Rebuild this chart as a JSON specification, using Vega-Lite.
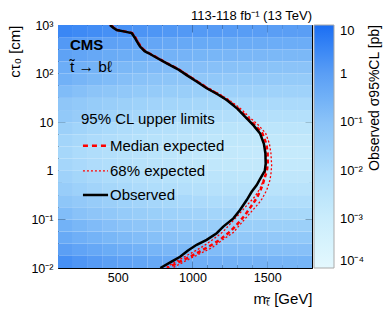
{
"$schema":"https://vega.github.io/schema/vega-lite/v6.json",
"width":254,"height":243,
"autosize":{"type":"none"},
"padding":{"left":58,"top":25,"right":78,"bottom":49},
"config":{"font":"Liberation Sans","view":{"stroke":null},"axis":{"grid":false,"domain":false,"tickColor":"black","domainColor":"black","labelColor":"black","titleColor":"black","zindex":1}},
"title":{"text":"113-118 fb⁻¹ (13 TeV)","anchor":"end","frame":"group","fontSize":13,"fontWeight":"normal","offset":-4,"color":"black"},
"datasets":{
"cells":[
{"m0":100,"m1":200,"c0":0.01,"c1":0.0178,"lg":0.30},{"m0":200,"m1":300,"c0":0.01,"c1":0.0178,"lg":0.17},{"m0":300,"m1":400,"c0":0.01,"c1":0.0178,"lg":0.06},{"m0":400,"m1":500,"c0":0.01,"c1":0.0178,"lg":-0.04},{"m0":500,"m1":600,"c0":0.01,"c1":0.0178,"lg":-0.13},{"m0":600,"m1":700,"c0":0.01,"c1":0.0178,"lg":-0.21},{"m0":700,"m1":800,"c0":0.01,"c1":0.0178,"lg":-0.29},{"m0":800,"m1":900,"c0":0.01,"c1":0.0178,"lg":-0.35},{"m0":900,"m1":1000,"c0":0.01,"c1":0.0178,"lg":-0.40},{"m0":1000,"m1":1100,"c0":0.01,"c1":0.0178,"lg":-0.45},{"m0":1100,"m1":1200,"c0":0.01,"c1":0.0178,"lg":-0.49},{"m0":1200,"m1":1300,"c0":0.01,"c1":0.0178,"lg":-0.53},{"m0":1300,"m1":1400,"c0":0.01,"c1":0.0178,"lg":-0.56},{"m0":1400,"m1":1500,"c0":0.01,"c1":0.0178,"lg":-0.57},{"m0":1500,"m1":1600,"c0":0.01,"c1":0.0178,"lg":-0.59},{"m0":1600,"m1":1700,"c0":0.01,"c1":0.0178,"lg":-0.60},{"m0":1700,"m1":1800,"c0":0.01,"c1":0.0178,"lg":-0.60},
{"m0":100,"m1":200,"c0":0.0178,"c1":0.0316,"lg":-0.02},{"m0":200,"m1":300,"c0":0.0178,"c1":0.0316,"lg":-0.15},{"m0":300,"m1":400,"c0":0.0178,"c1":0.0316,"lg":-0.26},{"m0":400,"m1":500,"c0":0.0178,"c1":0.0316,"lg":-0.36},{"m0":500,"m1":600,"c0":0.0178,"c1":0.0316,"lg":-0.45},{"m0":600,"m1":700,"c0":0.0178,"c1":0.0316,"lg":-0.53},{"m0":700,"m1":800,"c0":0.0178,"c1":0.0316,"lg":-0.61},{"m0":800,"m1":900,"c0":0.0178,"c1":0.0316,"lg":-0.67},{"m0":900,"m1":1000,"c0":0.0178,"c1":0.0316,"lg":-0.72},{"m0":1000,"m1":1100,"c0":0.0178,"c1":0.0316,"lg":-0.77},{"m0":1100,"m1":1200,"c0":0.0178,"c1":0.0316,"lg":-0.81},{"m0":1200,"m1":1300,"c0":0.0178,"c1":0.0316,"lg":-0.85},{"m0":1300,"m1":1400,"c0":0.0178,"c1":0.0316,"lg":-0.88},{"m0":1400,"m1":1500,"c0":0.0178,"c1":0.0316,"lg":-0.89},{"m0":1500,"m1":1600,"c0":0.0178,"c1":0.0316,"lg":-0.91},{"m0":1600,"m1":1700,"c0":0.0178,"c1":0.0316,"lg":-0.92},{"m0":1700,"m1":1800,"c0":0.0178,"c1":0.0316,"lg":-0.92},
{"m0":100,"m1":200,"c0":0.0316,"c1":0.0562,"lg":-0.32},{"m0":200,"m1":300,"c0":0.0316,"c1":0.0562,"lg":-0.45},{"m0":300,"m1":400,"c0":0.0316,"c1":0.0562,"lg":-0.56},{"m0":400,"m1":500,"c0":0.0316,"c1":0.0562,"lg":-0.66},{"m0":500,"m1":600,"c0":0.0316,"c1":0.0562,"lg":-0.75},{"m0":600,"m1":700,"c0":0.0316,"c1":0.0562,"lg":-0.83},{"m0":700,"m1":800,"c0":0.0316,"c1":0.0562,"lg":-0.91},{"m0":800,"m1":900,"c0":0.0316,"c1":0.0562,"lg":-0.97},{"m0":900,"m1":1000,"c0":0.0316,"c1":0.0562,"lg":-1.02},{"m0":1000,"m1":1100,"c0":0.0316,"c1":0.0562,"lg":-1.07},{"m0":1100,"m1":1200,"c0":0.0316,"c1":0.0562,"lg":-1.11},{"m0":1200,"m1":1300,"c0":0.0316,"c1":0.0562,"lg":-1.15},{"m0":1300,"m1":1400,"c0":0.0316,"c1":0.0562,"lg":-1.18},{"m0":1400,"m1":1500,"c0":0.0316,"c1":0.0562,"lg":-1.19},{"m0":1500,"m1":1600,"c0":0.0316,"c1":0.0562,"lg":-1.21},{"m0":1600,"m1":1700,"c0":0.0316,"c1":0.0562,"lg":-1.22},{"m0":1700,"m1":1800,"c0":0.0316,"c1":0.0562,"lg":-1.22},
{"m0":100,"m1":200,"c0":0.0562,"c1":0.1,"lg":-0.52},{"m0":200,"m1":300,"c0":0.0562,"c1":0.1,"lg":-0.66},{"m0":300,"m1":400,"c0":0.0562,"c1":0.1,"lg":-0.79},{"m0":400,"m1":500,"c0":0.0562,"c1":0.1,"lg":-0.90},{"m0":500,"m1":600,"c0":0.0562,"c1":0.1,"lg":-1.00},{"m0":600,"m1":700,"c0":0.0562,"c1":0.1,"lg":-1.09},{"m0":700,"m1":800,"c0":0.0562,"c1":0.1,"lg":-1.17},{"m0":800,"m1":900,"c0":0.0562,"c1":0.1,"lg":-1.24},{"m0":900,"m1":1000,"c0":0.0562,"c1":0.1,"lg":-1.30},{"m0":1000,"m1":1100,"c0":0.0562,"c1":0.1,"lg":-1.35},{"m0":1100,"m1":1200,"c0":0.0562,"c1":0.1,"lg":-1.40},{"m0":1200,"m1":1300,"c0":0.0562,"c1":0.1,"lg":-1.44},{"m0":1300,"m1":1400,"c0":0.0562,"c1":0.1,"lg":-1.47},{"m0":1400,"m1":1500,"c0":0.0562,"c1":0.1,"lg":-1.49},{"m0":1500,"m1":1600,"c0":0.0562,"c1":0.1,"lg":-1.51},{"m0":1600,"m1":1700,"c0":0.0562,"c1":0.1,"lg":-1.52},{"m0":1700,"m1":1800,"c0":0.0562,"c1":0.1,"lg":-1.52},
{"m0":100,"m1":200,"c0":0.1,"c1":0.178,"lg":-0.82},{"m0":200,"m1":300,"c0":0.1,"c1":0.178,"lg":-0.96},{"m0":300,"m1":400,"c0":0.1,"c1":0.178,"lg":-1.09},{"m0":400,"m1":500,"c0":0.1,"c1":0.178,"lg":-1.20},{"m0":500,"m1":600,"c0":0.1,"c1":0.178,"lg":-1.30},{"m0":600,"m1":700,"c0":0.1,"c1":0.178,"lg":-1.39},{"m0":700,"m1":800,"c0":0.1,"c1":0.178,"lg":-1.47},{"m0":800,"m1":900,"c0":0.1,"c1":0.178,"lg":-1.54},{"m0":900,"m1":1000,"c0":0.1,"c1":0.178,"lg":-1.60},{"m0":1000,"m1":1100,"c0":0.1,"c1":0.178,"lg":-1.65},{"m0":1100,"m1":1200,"c0":0.1,"c1":0.178,"lg":-1.70},{"m0":1200,"m1":1300,"c0":0.1,"c1":0.178,"lg":-1.74},{"m0":1300,"m1":1400,"c0":0.1,"c1":0.178,"lg":-1.77},{"m0":1400,"m1":1500,"c0":0.1,"c1":0.178,"lg":-1.79},{"m0":1500,"m1":1600,"c0":0.1,"c1":0.178,"lg":-1.81},{"m0":1600,"m1":1700,"c0":0.1,"c1":0.178,"lg":-1.82},{"m0":1700,"m1":1800,"c0":0.1,"c1":0.178,"lg":-1.82},
{"m0":100,"m1":200,"c0":0.178,"c1":0.316,"lg":-1.10},{"m0":200,"m1":300,"c0":0.178,"c1":0.316,"lg":-1.24},{"m0":300,"m1":400,"c0":0.178,"c1":0.316,"lg":-1.37},{"m0":400,"m1":500,"c0":0.178,"c1":0.316,"lg":-1.48},{"m0":500,"m1":600,"c0":0.178,"c1":0.316,"lg":-1.58},{"m0":600,"m1":700,"c0":0.178,"c1":0.316,"lg":-1.67},{"m0":700,"m1":800,"c0":0.178,"c1":0.316,"lg":-1.75},{"m0":800,"m1":900,"c0":0.178,"c1":0.316,"lg":-1.82},{"m0":900,"m1":1000,"c0":0.178,"c1":0.316,"lg":-1.88},{"m0":1000,"m1":1100,"c0":0.178,"c1":0.316,"lg":-1.93},{"m0":1100,"m1":1200,"c0":0.178,"c1":0.316,"lg":-1.98},{"m0":1200,"m1":1300,"c0":0.178,"c1":0.316,"lg":-2.02},{"m0":1300,"m1":1400,"c0":0.178,"c1":0.316,"lg":-2.05},{"m0":1400,"m1":1500,"c0":0.178,"c1":0.316,"lg":-2.07},{"m0":1500,"m1":1600,"c0":0.178,"c1":0.316,"lg":-2.09},{"m0":1600,"m1":1700,"c0":0.178,"c1":0.316,"lg":-2.10},{"m0":1700,"m1":1800,"c0":0.178,"c1":0.316,"lg":-2.10},
{"m0":100,"m1":200,"c0":0.316,"c1":0.562,"lg":-1.40},{"m0":200,"m1":300,"c0":0.316,"c1":0.562,"lg":-1.54},{"m0":300,"m1":400,"c0":0.316,"c1":0.562,"lg":-1.67},{"m0":400,"m1":500,"c0":0.316,"c1":0.562,"lg":-1.78},{"m0":500,"m1":600,"c0":0.316,"c1":0.562,"lg":-1.88},{"m0":600,"m1":700,"c0":0.316,"c1":0.562,"lg":-1.97},{"m0":700,"m1":800,"c0":0.316,"c1":0.562,"lg":-2.05},{"m0":800,"m1":900,"c0":0.316,"c1":0.562,"lg":-2.12},{"m0":900,"m1":1000,"c0":0.316,"c1":0.562,"lg":-2.18},{"m0":1000,"m1":1100,"c0":0.316,"c1":0.562,"lg":-2.23},{"m0":1100,"m1":1200,"c0":0.316,"c1":0.562,"lg":-2.28},{"m0":1200,"m1":1300,"c0":0.316,"c1":0.562,"lg":-2.32},{"m0":1300,"m1":1400,"c0":0.316,"c1":0.562,"lg":-2.35},{"m0":1400,"m1":1500,"c0":0.316,"c1":0.562,"lg":-2.37},{"m0":1500,"m1":1600,"c0":0.316,"c1":0.562,"lg":-2.39},{"m0":1600,"m1":1700,"c0":0.316,"c1":0.562,"lg":-2.40},{"m0":1700,"m1":1800,"c0":0.316,"c1":0.562,"lg":-2.40},
{"m0":100,"m1":200,"c0":0.562,"c1":1,"lg":-1.60},{"m0":200,"m1":300,"c0":0.562,"c1":1,"lg":-1.74},{"m0":300,"m1":400,"c0":0.562,"c1":1,"lg":-1.87},{"m0":400,"m1":500,"c0":0.562,"c1":1,"lg":-1.98},{"m0":500,"m1":600,"c0":0.562,"c1":1,"lg":-2.08},{"m0":600,"m1":700,"c0":0.562,"c1":1,"lg":-2.17},{"m0":700,"m1":800,"c0":0.562,"c1":1,"lg":-2.25},{"m0":800,"m1":900,"c0":0.562,"c1":1,"lg":-2.32},{"m0":900,"m1":1000,"c0":0.562,"c1":1,"lg":-2.38},{"m0":1000,"m1":1100,"c0":0.562,"c1":1,"lg":-2.43},{"m0":1100,"m1":1200,"c0":0.562,"c1":1,"lg":-2.48},{"m0":1200,"m1":1300,"c0":0.562,"c1":1,"lg":-2.52},{"m0":1300,"m1":1400,"c0":0.562,"c1":1,"lg":-2.55},{"m0":1400,"m1":1500,"c0":0.562,"c1":1,"lg":-2.57},{"m0":1500,"m1":1600,"c0":0.562,"c1":1,"lg":-2.59},{"m0":1600,"m1":1700,"c0":0.562,"c1":1,"lg":-2.60},{"m0":1700,"m1":1800,"c0":0.562,"c1":1,"lg":-2.60},
{"m0":100,"m1":200,"c0":1,"c1":1.78,"lg":-1.75},{"m0":200,"m1":300,"c0":1,"c1":1.78,"lg":-1.89},{"m0":300,"m1":400,"c0":1,"c1":1.78,"lg":-2.02},{"m0":400,"m1":500,"c0":1,"c1":1.78,"lg":-2.13},{"m0":500,"m1":600,"c0":1,"c1":1.78,"lg":-2.23},{"m0":600,"m1":700,"c0":1,"c1":1.78,"lg":-2.32},{"m0":700,"m1":800,"c0":1,"c1":1.78,"lg":-2.40},{"m0":800,"m1":900,"c0":1,"c1":1.78,"lg":-2.47},{"m0":900,"m1":1000,"c0":1,"c1":1.78,"lg":-2.53},{"m0":1000,"m1":1100,"c0":1,"c1":1.78,"lg":-2.58},{"m0":1100,"m1":1200,"c0":1,"c1":1.78,"lg":-2.63},{"m0":1200,"m1":1300,"c0":1,"c1":1.78,"lg":-2.67},{"m0":1300,"m1":1400,"c0":1,"c1":1.78,"lg":-2.70},{"m0":1400,"m1":1500,"c0":1,"c1":1.78,"lg":-2.72},{"m0":1500,"m1":1600,"c0":1,"c1":1.78,"lg":-2.74},{"m0":1600,"m1":1700,"c0":1,"c1":1.78,"lg":-2.75},{"m0":1700,"m1":1800,"c0":1,"c1":1.78,"lg":-2.75},
{"m0":100,"m1":200,"c0":1.78,"c1":3.16,"lg":-1.80},{"m0":200,"m1":300,"c0":1.78,"c1":3.16,"lg":-1.94},{"m0":300,"m1":400,"c0":1.78,"c1":3.16,"lg":-2.07},{"m0":400,"m1":500,"c0":1.78,"c1":3.16,"lg":-2.18},{"m0":500,"m1":600,"c0":1.78,"c1":3.16,"lg":-2.28},{"m0":600,"m1":700,"c0":1.78,"c1":3.16,"lg":-2.37},{"m0":700,"m1":800,"c0":1.78,"c1":3.16,"lg":-2.45},{"m0":800,"m1":900,"c0":1.78,"c1":3.16,"lg":-2.52},{"m0":900,"m1":1000,"c0":1.78,"c1":3.16,"lg":-2.58},{"m0":1000,"m1":1100,"c0":1.78,"c1":3.16,"lg":-2.63},{"m0":1100,"m1":1200,"c0":1.78,"c1":3.16,"lg":-2.68},{"m0":1200,"m1":1300,"c0":1.78,"c1":3.16,"lg":-2.72},{"m0":1300,"m1":1400,"c0":1.78,"c1":3.16,"lg":-2.75},{"m0":1400,"m1":1500,"c0":1.78,"c1":3.16,"lg":-2.77},{"m0":1500,"m1":1600,"c0":1.78,"c1":3.16,"lg":-2.79},{"m0":1600,"m1":1700,"c0":1.78,"c1":3.16,"lg":-2.80},{"m0":1700,"m1":1800,"c0":1.78,"c1":3.16,"lg":-2.80},
{"m0":100,"m1":200,"c0":3.16,"c1":5.62,"lg":-1.70},{"m0":200,"m1":300,"c0":3.16,"c1":5.62,"lg":-1.84},{"m0":300,"m1":400,"c0":3.16,"c1":5.62,"lg":-1.97},{"m0":400,"m1":500,"c0":3.16,"c1":5.62,"lg":-2.08},{"m0":500,"m1":600,"c0":3.16,"c1":5.62,"lg":-2.18},{"m0":600,"m1":700,"c0":3.16,"c1":5.62,"lg":-2.27},{"m0":700,"m1":800,"c0":3.16,"c1":5.62,"lg":-2.35},{"m0":800,"m1":900,"c0":3.16,"c1":5.62,"lg":-2.42},{"m0":900,"m1":1000,"c0":3.16,"c1":5.62,"lg":-2.48},{"m0":1000,"m1":1100,"c0":3.16,"c1":5.62,"lg":-2.53},{"m0":1100,"m1":1200,"c0":3.16,"c1":5.62,"lg":-2.58},{"m0":1200,"m1":1300,"c0":3.16,"c1":5.62,"lg":-2.62},{"m0":1300,"m1":1400,"c0":3.16,"c1":5.62,"lg":-2.65},{"m0":1400,"m1":1500,"c0":3.16,"c1":5.62,"lg":-2.67},{"m0":1500,"m1":1600,"c0":3.16,"c1":5.62,"lg":-2.69},{"m0":1600,"m1":1700,"c0":3.16,"c1":5.62,"lg":-2.70},{"m0":1700,"m1":1800,"c0":3.16,"c1":5.62,"lg":-2.70},
{"m0":100,"m1":200,"c0":5.62,"c1":10,"lg":-1.52},{"m0":200,"m1":300,"c0":5.62,"c1":10,"lg":-1.66},{"m0":300,"m1":400,"c0":5.62,"c1":10,"lg":-1.79},{"m0":400,"m1":500,"c0":5.62,"c1":10,"lg":-1.90},{"m0":500,"m1":600,"c0":5.62,"c1":10,"lg":-2.00},{"m0":600,"m1":700,"c0":5.62,"c1":10,"lg":-2.09},{"m0":700,"m1":800,"c0":5.62,"c1":10,"lg":-2.17},{"m0":800,"m1":900,"c0":5.62,"c1":10,"lg":-2.24},{"m0":900,"m1":1000,"c0":5.62,"c1":10,"lg":-2.30},{"m0":1000,"m1":1100,"c0":5.62,"c1":10,"lg":-2.35},{"m0":1100,"m1":1200,"c0":5.62,"c1":10,"lg":-2.40},{"m0":1200,"m1":1300,"c0":5.62,"c1":10,"lg":-2.44},{"m0":1300,"m1":1400,"c0":5.62,"c1":10,"lg":-2.47},{"m0":1400,"m1":1500,"c0":5.62,"c1":10,"lg":-2.49},{"m0":1500,"m1":1600,"c0":5.62,"c1":10,"lg":-2.51},{"m0":1600,"m1":1700,"c0":5.62,"c1":10,"lg":-2.52},{"m0":1700,"m1":1800,"c0":5.62,"c1":10,"lg":-2.52},
{"m0":100,"m1":200,"c0":10,"c1":17.8,"lg":-1.22},{"m0":200,"m1":300,"c0":10,"c1":17.8,"lg":-1.36},{"m0":300,"m1":400,"c0":10,"c1":17.8,"lg":-1.49},{"m0":400,"m1":500,"c0":10,"c1":17.8,"lg":-1.60},{"m0":500,"m1":600,"c0":10,"c1":17.8,"lg":-1.70},{"m0":600,"m1":700,"c0":10,"c1":17.8,"lg":-1.79},{"m0":700,"m1":800,"c0":10,"c1":17.8,"lg":-1.87},{"m0":800,"m1":900,"c0":10,"c1":17.8,"lg":-1.94},{"m0":900,"m1":1000,"c0":10,"c1":17.8,"lg":-2.00},{"m0":1000,"m1":1100,"c0":10,"c1":17.8,"lg":-2.05},{"m0":1100,"m1":1200,"c0":10,"c1":17.8,"lg":-2.10},{"m0":1200,"m1":1300,"c0":10,"c1":17.8,"lg":-2.14},{"m0":1300,"m1":1400,"c0":10,"c1":17.8,"lg":-2.17},{"m0":1400,"m1":1500,"c0":10,"c1":17.8,"lg":-2.19},{"m0":1500,"m1":1600,"c0":10,"c1":17.8,"lg":-2.21},{"m0":1600,"m1":1700,"c0":10,"c1":17.8,"lg":-2.22},{"m0":1700,"m1":1800,"c0":10,"c1":17.8,"lg":-2.22},
{"m0":100,"m1":200,"c0":17.8,"c1":31.6,"lg":-1.12},{"m0":200,"m1":300,"c0":17.8,"c1":31.6,"lg":-1.23},{"m0":300,"m1":400,"c0":17.8,"c1":31.6,"lg":-1.34},{"m0":400,"m1":500,"c0":17.8,"c1":31.6,"lg":-1.42},{"m0":500,"m1":600,"c0":17.8,"c1":31.6,"lg":-1.50},{"m0":600,"m1":700,"c0":17.8,"c1":31.6,"lg":-1.58},{"m0":700,"m1":800,"c0":17.8,"c1":31.6,"lg":-1.64},{"m0":800,"m1":900,"c0":17.8,"c1":31.6,"lg":-1.70},{"m0":900,"m1":1000,"c0":17.8,"c1":31.6,"lg":-1.74},{"m0":1000,"m1":1100,"c0":17.8,"c1":31.6,"lg":-1.78},{"m0":1100,"m1":1200,"c0":17.8,"c1":31.6,"lg":-1.82},{"m0":1200,"m1":1300,"c0":17.8,"c1":31.6,"lg":-1.86},{"m0":1300,"m1":1400,"c0":17.8,"c1":31.6,"lg":-1.88},{"m0":1400,"m1":1500,"c0":17.8,"c1":31.6,"lg":-1.90},{"m0":1500,"m1":1600,"c0":17.8,"c1":31.6,"lg":-1.91},{"m0":1600,"m1":1700,"c0":17.8,"c1":31.6,"lg":-1.92},{"m0":1700,"m1":1800,"c0":17.8,"c1":31.6,"lg":-1.92},
{"m0":100,"m1":200,"c0":31.6,"c1":56.2,"lg":-0.80},{"m0":200,"m1":300,"c0":31.6,"c1":56.2,"lg":-0.91},{"m0":300,"m1":400,"c0":31.6,"c1":56.2,"lg":-1.02},{"m0":400,"m1":500,"c0":31.6,"c1":56.2,"lg":-1.10},{"m0":500,"m1":600,"c0":31.6,"c1":56.2,"lg":-1.18},{"m0":600,"m1":700,"c0":31.6,"c1":56.2,"lg":-1.26},{"m0":700,"m1":800,"c0":31.6,"c1":56.2,"lg":-1.32},{"m0":800,"m1":900,"c0":31.6,"c1":56.2,"lg":-1.38},{"m0":900,"m1":1000,"c0":31.6,"c1":56.2,"lg":-1.42},{"m0":1000,"m1":1100,"c0":31.6,"c1":56.2,"lg":-1.46},{"m0":1100,"m1":1200,"c0":31.6,"c1":56.2,"lg":-1.50},{"m0":1200,"m1":1300,"c0":31.6,"c1":56.2,"lg":-1.54},{"m0":1300,"m1":1400,"c0":31.6,"c1":56.2,"lg":-1.56},{"m0":1400,"m1":1500,"c0":31.6,"c1":56.2,"lg":-1.58},{"m0":1500,"m1":1600,"c0":31.6,"c1":56.2,"lg":-1.59},{"m0":1600,"m1":1700,"c0":31.6,"c1":56.2,"lg":-1.60},{"m0":1700,"m1":1800,"c0":31.6,"c1":56.2,"lg":-1.60},
{"m0":100,"m1":200,"c0":56.2,"c1":100,"lg":-0.50},{"m0":200,"m1":300,"c0":56.2,"c1":100,"lg":-0.61},{"m0":300,"m1":400,"c0":56.2,"c1":100,"lg":-0.72},{"m0":400,"m1":500,"c0":56.2,"c1":100,"lg":-0.80},{"m0":500,"m1":600,"c0":56.2,"c1":100,"lg":-0.88},{"m0":600,"m1":700,"c0":56.2,"c1":100,"lg":-0.96},{"m0":700,"m1":800,"c0":56.2,"c1":100,"lg":-1.02},{"m0":800,"m1":900,"c0":56.2,"c1":100,"lg":-1.08},{"m0":900,"m1":1000,"c0":56.2,"c1":100,"lg":-1.12},{"m0":1000,"m1":1100,"c0":56.2,"c1":100,"lg":-1.16},{"m0":1100,"m1":1200,"c0":56.2,"c1":100,"lg":-1.20},{"m0":1200,"m1":1300,"c0":56.2,"c1":100,"lg":-1.24},{"m0":1300,"m1":1400,"c0":56.2,"c1":100,"lg":-1.26},{"m0":1400,"m1":1500,"c0":56.2,"c1":100,"lg":-1.28},{"m0":1500,"m1":1600,"c0":56.2,"c1":100,"lg":-1.29},{"m0":1600,"m1":1700,"c0":56.2,"c1":100,"lg":-1.30},{"m0":1700,"m1":1800,"c0":56.2,"c1":100,"lg":-1.30},
{"m0":100,"m1":200,"c0":100,"c1":178,"lg":-0.40},{"m0":200,"m1":300,"c0":100,"c1":178,"lg":-0.48},{"m0":300,"m1":400,"c0":100,"c1":178,"lg":-0.56},{"m0":400,"m1":500,"c0":100,"c1":178,"lg":-0.63},{"m0":500,"m1":600,"c0":100,"c1":178,"lg":-0.69},{"m0":600,"m1":700,"c0":100,"c1":178,"lg":-0.74},{"m0":700,"m1":800,"c0":100,"c1":178,"lg":-0.79},{"m0":800,"m1":900,"c0":100,"c1":178,"lg":-0.83},{"m0":900,"m1":1000,"c0":100,"c1":178,"lg":-0.87},{"m0":1000,"m1":1100,"c0":100,"c1":178,"lg":-0.90},{"m0":1100,"m1":1200,"c0":100,"c1":178,"lg":-0.93},{"m0":1200,"m1":1300,"c0":100,"c1":178,"lg":-0.95},{"m0":1300,"m1":1400,"c0":100,"c1":178,"lg":-0.97},{"m0":1400,"m1":1500,"c0":100,"c1":178,"lg":-0.98},{"m0":1500,"m1":1600,"c0":100,"c1":178,"lg":-0.99},{"m0":1600,"m1":1700,"c0":100,"c1":178,"lg":-1.00},{"m0":1700,"m1":1800,"c0":100,"c1":178,"lg":-1.00},
{"m0":100,"m1":200,"c0":178,"c1":316,"lg":-0.10},{"m0":200,"m1":300,"c0":178,"c1":316,"lg":-0.18},{"m0":300,"m1":400,"c0":178,"c1":316,"lg":-0.26},{"m0":400,"m1":500,"c0":178,"c1":316,"lg":-0.33},{"m0":500,"m1":600,"c0":178,"c1":316,"lg":-0.39},{"m0":600,"m1":700,"c0":178,"c1":316,"lg":-0.44},{"m0":700,"m1":800,"c0":178,"c1":316,"lg":-0.49},{"m0":800,"m1":900,"c0":178,"c1":316,"lg":-0.53},{"m0":900,"m1":1000,"c0":178,"c1":316,"lg":-0.57},{"m0":1000,"m1":1100,"c0":178,"c1":316,"lg":-0.60},{"m0":1100,"m1":1200,"c0":178,"c1":316,"lg":-0.63},{"m0":1200,"m1":1300,"c0":178,"c1":316,"lg":-0.65},{"m0":1300,"m1":1400,"c0":178,"c1":316,"lg":-0.67},{"m0":1400,"m1":1500,"c0":178,"c1":316,"lg":-0.68},{"m0":1500,"m1":1600,"c0":178,"c1":316,"lg":-0.69},{"m0":1600,"m1":1700,"c0":178,"c1":316,"lg":-0.70},{"m0":1700,"m1":1800,"c0":178,"c1":316,"lg":-0.70},
{"m0":100,"m1":200,"c0":316,"c1":562,"lg":0.10},{"m0":200,"m1":300,"c0":316,"c1":562,"lg":0.03},{"m0":300,"m1":400,"c0":316,"c1":562,"lg":-0.03},{"m0":400,"m1":500,"c0":316,"c1":562,"lg":-0.09},{"m0":500,"m1":600,"c0":316,"c1":562,"lg":-0.14},{"m0":600,"m1":700,"c0":316,"c1":562,"lg":-0.18},{"m0":700,"m1":800,"c0":316,"c1":562,"lg":-0.22},{"m0":800,"m1":900,"c0":316,"c1":562,"lg":-0.26},{"m0":900,"m1":1000,"c0":316,"c1":562,"lg":-0.29},{"m0":1000,"m1":1100,"c0":316,"c1":562,"lg":-0.31},{"m0":1100,"m1":1200,"c0":316,"c1":562,"lg":-0.34},{"m0":1200,"m1":1300,"c0":316,"c1":562,"lg":-0.36},{"m0":1300,"m1":1400,"c0":316,"c1":562,"lg":-0.37},{"m0":1400,"m1":1500,"c0":316,"c1":562,"lg":-0.38},{"m0":1500,"m1":1600,"c0":316,"c1":562,"lg":-0.40},{"m0":1600,"m1":1700,"c0":316,"c1":562,"lg":-0.40},{"m0":1700,"m1":1800,"c0":316,"c1":562,"lg":-0.40},
{"m0":100,"m1":200,"c0":562,"c1":1000,"lg":0.50},{"m0":200,"m1":300,"c0":562,"c1":1000,"lg":0.43},{"m0":300,"m1":400,"c0":562,"c1":1000,"lg":0.37},{"m0":400,"m1":500,"c0":562,"c1":1000,"lg":0.31},{"m0":500,"m1":600,"c0":562,"c1":1000,"lg":0.26},{"m0":600,"m1":700,"c0":562,"c1":1000,"lg":0.22},{"m0":700,"m1":800,"c0":562,"c1":1000,"lg":0.18},{"m0":800,"m1":900,"c0":562,"c1":1000,"lg":0.14},{"m0":900,"m1":1000,"c0":562,"c1":1000,"lg":0.11},{"m0":1000,"m1":1100,"c0":562,"c1":1000,"lg":0.09},{"m0":1100,"m1":1200,"c0":562,"c1":1000,"lg":0.06},{"m0":1200,"m1":1300,"c0":562,"c1":1000,"lg":0.04},{"m0":1300,"m1":1400,"c0":562,"c1":1000,"lg":0.03},{"m0":1400,"m1":1500,"c0":562,"c1":1000,"lg":0.02},{"m0":1500,"m1":1600,"c0":562,"c1":1000,"lg":0.00},{"m0":1600,"m1":1700,"c0":562,"c1":1000,"lg":0.00},{"m0":1700,"m1":1800,"c0":562,"c1":1000,"lg":0.00}
],
"obs":[{"i":1,"m":448,"c":1000},{"i":2,"m":470,"c":880},{"i":3,"m":493,"c":790},{"i":4,"m":548,"c":730},{"i":5,"m":593,"c":680},{"i":6,"m":612,"c":560},{"i":7,"m":630,"c":450},{"i":8,"m":649,"c":360},{"i":9,"m":680,"c":290},{"i":10,"m":704,"c":265},{"i":11,"m":760,"c":212},{"i":12,"m":828,"c":162},{"i":13,"m":900,"c":124},{"i":14,"m":961,"c":93},{"i":15,"m":1030,"c":68},{"i":16,"m":1095,"c":50},{"i":17,"m":1165,"c":38},{"i":18,"m":1229,"c":28.6},{"i":19,"m":1300,"c":19},{"i":20,"m":1363,"c":12},{"i":21,"m":1410,"c":8.5},{"i":22,"m":1452,"c":5.9},{"i":23,"m":1478,"c":3.6},{"i":24,"m":1488,"c":2.3},{"i":25,"m":1490,"c":1.4},{"i":26,"m":1484,"c":1.0},{"i":27,"m":1474,"c":0.89},{"i":28,"m":1450,"c":0.66},{"i":29,"m":1430,"c":0.51},{"i":30,"m":1396,"c":0.37},{"i":31,"m":1363,"c":0.25},{"i":32,"m":1318,"c":0.156},{"i":33,"m":1274,"c":0.105},{"i":34,"m":1206,"c":0.071},{"i":35,"m":1162,"c":0.052},{"i":36,"m":1095,"c":0.038},{"i":37,"m":1028,"c":0.030},{"i":38,"m":970,"c":0.023},{"i":39,"m":917,"c":0.017},{"i":40,"m":860,"c":0.0135},{"i":41,"m":785,"c":0.01}],
"med":[{"i":1,"m":452,"c":1000},{"i":2,"m":474,"c":880},{"i":3,"m":497,"c":790},{"i":4,"m":552,"c":730},{"i":5,"m":597,"c":680},{"i":6,"m":616,"c":560},{"i":7,"m":634,"c":450},{"i":8,"m":653,"c":360},{"i":9,"m":684,"c":290},{"i":10,"m":708,"c":265},{"i":11,"m":764,"c":212},{"i":12,"m":832,"c":162},{"i":13,"m":904,"c":124},{"i":14,"m":966,"c":93},{"i":15,"m":1035,"c":68},{"i":16,"m":1100,"c":50},{"i":17,"m":1170,"c":38},{"i":18,"m":1235,"c":28.6},{"i":19,"m":1307,"c":19},{"i":20,"m":1372,"c":12},{"i":21,"m":1422,"c":8.5},{"i":22,"m":1468,"c":5.9},{"i":23,"m":1494,"c":3.6},{"i":24,"m":1503,"c":2.3},{"i":25,"m":1504,"c":1.4},{"i":26,"m":1498,"c":1.0},{"i":27,"m":1486,"c":0.76},{"i":28,"m":1468,"c":0.5},{"i":29,"m":1455,"c":0.4},{"i":30,"m":1432,"c":0.28},{"i":31,"m":1405,"c":0.21},{"i":32,"m":1352,"c":0.123},{"i":33,"m":1296,"c":0.077},{"i":34,"m":1251,"c":0.056},{"i":35,"m":1184,"c":0.038},{"i":36,"m":1113,"c":0.028},{"i":37,"m":1028,"c":0.020},{"i":38,"m":939,"c":0.0146},{"i":39,"m":830,"c":0.01}],
"up":[{"i":1,"m":455,"c":1000},{"i":2,"m":478,"c":880},{"i":3,"m":500,"c":790},{"i":4,"m":555,"c":730},{"i":5,"m":600,"c":680},{"i":6,"m":620,"c":560},{"i":7,"m":638,"c":450},{"i":8,"m":657,"c":360},{"i":9,"m":688,"c":290},{"i":10,"m":712,"c":265},{"i":11,"m":768,"c":212},{"i":12,"m":837,"c":162},{"i":13,"m":910,"c":124},{"i":14,"m":972,"c":93},{"i":15,"m":1042,"c":68},{"i":16,"m":1108,"c":50},{"i":17,"m":1180,"c":38},{"i":18,"m":1246,"c":28.6},{"i":19,"m":1322,"c":19},{"i":20,"m":1390,"c":12},{"i":21,"m":1445,"c":8.5},{"i":22,"m":1490,"c":5.9},{"i":23,"m":1515,"c":3.6},{"i":24,"m":1525,"c":2.3},{"i":25,"m":1530,"c":1.3},{"i":26,"m":1525,"c":0.85},{"i":27,"m":1519,"c":0.65},{"i":28,"m":1497,"c":0.40},{"i":29,"m":1464,"c":0.26},{"i":30,"m":1441,"c":0.21},{"i":31,"m":1374,"c":0.123},{"i":32,"m":1318,"c":0.078},{"i":33,"m":1274,"c":0.054},{"i":34,"m":1202,"c":0.038},{"i":35,"m":1129,"c":0.026},{"i":36,"m":1039,"c":0.019},{"i":37,"m":950,"c":0.0138},{"i":38,"m":865,"c":0.01}],
"lo":[{"i":1,"m":446,"c":1000},{"i":2,"m":468,"c":880},{"i":3,"m":491,"c":790},{"i":4,"m":546,"c":730},{"i":5,"m":591,"c":680},{"i":6,"m":611,"c":560},{"i":7,"m":628,"c":450},{"i":8,"m":647,"c":360},{"i":9,"m":678,"c":290},{"i":10,"m":702,"c":265},{"i":11,"m":758,"c":212},{"i":12,"m":826,"c":162},{"i":13,"m":898,"c":124},{"i":14,"m":959,"c":93},{"i":15,"m":1028,"c":68},{"i":16,"m":1093,"c":50},{"i":17,"m":1163,"c":38},{"i":18,"m":1227,"c":28.6},{"i":19,"m":1298,"c":19},{"i":20,"m":1360,"c":12},{"i":21,"m":1408,"c":8.5},{"i":22,"m":1452,"c":5.9},{"i":23,"m":1480,"c":3.6},{"i":24,"m":1492,"c":2.3},{"i":25,"m":1495,"c":1.4},{"i":26,"m":1490,"c":1.0},{"i":27,"m":1480,"c":0.7},{"i":28,"m":1455,"c":0.45},{"i":29,"m":1420,"c":0.3},{"i":30,"m":1374,"c":0.21},{"i":31,"m":1307,"c":0.123},{"i":32,"m":1251,"c":0.080},{"i":33,"m":1206,"c":0.056},{"i":34,"m":1139,"c":0.039},{"i":35,"m":1072,"c":0.028},{"i":36,"m":995,"c":0.0205},{"i":37,"m":928,"c":0.0158},{"i":38,"m":850,"c":0.0115},{"i":39,"m":820,"c":0.01}],
"leg":[{"s":"med","m":267,"c":3.28},{"s":"med","m":435,"c":3.28},{"s":"band","m":267,"c":1.0},{"s":"band","m":435,"c":1.0},{"s":"obs","m":267,"c":0.318},{"s":"obs","m":435,"c":0.318}],
"txt":[{"m":254,"c":11.6,"t":"95% CL upper limits"},{"m":448,"c":3.28,"t":"Median expected"},{"m":448,"c":1.0,"t":"68% expected"},{"m":448,"c":0.318,"t":"Observed"}],
"proc":[{"m":180,"c":139,"t":"t̃ → bℓ"}],
"cms":[{"m":180,"c":387,"t":"CMS"}]
},
"layer":[
{"data":{"name":"cells"},"mark":{"type":"rect"},
"encoding":{
"x":{"field":"m0","type":"quantitative","scale":{"domain":[100,1800],"nice":false,"zero":false},"axis":{"orient":"bottom","ticks":false,"values":[500,1000,1500],"format":"d","labelFontSize":12.5,"labelPadding":3,"title":"mₜ̃ [GeV]","titleFontSize":15,"titleFontWeight":"normal","titleAnchor":"end","titlePadding":8}},
"x2":{"field":"m1"},
"y":{"field":"c0","type":"quantitative","scale":{"type":"log","domain":[0.01,1000],"nice":false},"axis":{"orient":"left","ticks":false,"values":[0.01,0.1,1,10,100,1000],"labelExpr":"datum.value == 1 ? '1' : datum.value == 10 ? '10' : datum.value == 100 ? '10²' : datum.value == 1000 ? '10³' : datum.value == 0.1 ? '10⁻¹' : '10⁻²'","labelFontSize":12.5,"labelPadding":5,"title":"cτ₀ [cm]","titleFontSize":15,"titleFontWeight":"normal","titleAnchor":"end","titlePadding":8}},
"y2":{"field":"c1"},
"color":{"field":"lg","type":"quantitative","scale":{"domain":[-4,-3,-2,-1,0,1],"range":["#e4f8fe","#cbedfc","#aedcfb","#8bc3f8","#5a9ef5","#1b6ef3"]},
"legend":{"type":"gradient","orient":"right","offset":1,"padding":0,"direction":"vertical","gradientLength":243,"gradientThickness":20,"gradientStrokeColor":"#aaaaaa","gradientStrokeWidth":1,"values":[-4,-3,-2,-1,0,1],"labelExpr":"datum.value == 1 ? '10' : datum.value == 0 ? '1' : datum.value == -1 ? '10⁻¹' : datum.value == -2 ? '10⁻²' : datum.value == -3 ? '10⁻³' : '10⁻⁴'","labelFontSize":13,"labelOffset":6,"labelColor":"black","title":"Observed σ95%CL [pb]","titleOrient":"right","titleFontSize":14,"titleFontWeight":"normal","titleAnchor":"end","titlePadding":4,"titleColor":"black",
"encode":{"title":{"update":{"angle":{"value":270},"align":{"value":"right"},"baseline":{"value":"top"}}}}}}
}},
{"data":{"name":"lo"},"mark":{"type":"line","color":"#ff0000","strokeWidth":1.3,"strokeDash":[2,2],"clip":true},
"encoding":{
"x":{"field":"m","type":"quantitative","axis":{"orient":"bottom","labels":false,"title":null,"domain":true,"tickSize":-7,"values":[500,1000,1500]}},
"y":{"field":"c","type":"quantitative","axis":{"orient":"left","labels":false,"title":null,"domain":true,"tickSize":-7,"values":[0.01,0.1,1,10,100,1000]}},
"order":{"field":"i"}}},
{"data":{"name":"up"},"mark":{"type":"line","color":"#ff0000","strokeWidth":1.3,"strokeDash":[2,2],"clip":true},
"encoding":{
"x":{"field":"m","type":"quantitative","axis":{"orient":"bottom","labels":false,"title":null,"tickSize":-3.5,"values":[200,300,400,600,700,800,900,1100,1200,1300,1400,1600,1700]}},
"y":{"field":"c","type":"quantitative","axis":{"orient":"left","labels":false,"title":null,"tickSize":-3.5,"values":[0.02,0.03,0.04,0.05,0.06,0.07,0.08,0.09,0.2,0.3,0.4,0.5,0.6,0.7,0.8,0.9,2,3,4,5,6,7,8,9,20,30,40,50,60,70,80,90,200,300,400,500,600,700,800,900]}},
"order":{"field":"i"}}},
{"data":{"name":"med"},"mark":{"type":"line","color":"#ff0000","strokeWidth":2.5,"strokeDash":[4,3],"clip":true},
"encoding":{
"x":{"field":"m","type":"quantitative","axis":{"orient":"top","labels":false,"title":null,"domain":true,"tickSize":-7,"values":[500,1000,1500]}},
"y":{"field":"c","type":"quantitative","axis":{"orient":"right","labels":false,"title":null,"domain":true,"tickSize":-7,"values":[0.01,0.1,1,10,100,1000]}},
"order":{"field":"i"}}},
{"data":{"name":"obs"},"mark":{"type":"line","color":"black","strokeWidth":2.5,"clip":true},
"encoding":{
"x":{"field":"m","type":"quantitative","axis":{"orient":"top","labels":false,"title":null,"tickSize":-3.5,"values":[200,300,400,600,700,800,900,1100,1200,1300,1400,1600,1700]}},
"y":{"field":"c","type":"quantitative","axis":{"orient":"right","labels":false,"title":null,"tickSize":-3.5,"values":[0.02,0.03,0.04,0.05,0.06,0.07,0.08,0.09,0.2,0.3,0.4,0.5,0.6,0.7,0.8,0.9,2,3,4,5,6,7,8,9,20,30,40,50,60,70,80,90,200,300,400,500,600,700,800,900]}},
"order":{"field":"i"}}},
{"data":{"name":"leg"},"transform":[{"filter":"datum.s == 'med'"}],"mark":{"type":"line","color":"#ff0000","strokeWidth":2.5,"strokeDash":[5,4]},
"encoding":{"x":{"field":"m","type":"quantitative","axis":null},"y":{"field":"c","type":"quantitative","axis":null}}},
{"data":{"name":"leg"},"transform":[{"filter":"datum.s == 'band'"}],"mark":{"type":"line","color":"#ff0000","strokeWidth":1.3,"strokeDash":[2,2]},
"encoding":{"x":{"field":"m","type":"quantitative","axis":null},"y":{"field":"c","type":"quantitative","axis":null}}},
{"data":{"name":"leg"},"transform":[{"filter":"datum.s == 'obs'"}],"mark":{"type":"line","color":"black","strokeWidth":2.5},
"encoding":{"x":{"field":"m","type":"quantitative","axis":null},"y":{"field":"c","type":"quantitative","axis":null}}},
{"data":{"name":"txt"},"mark":{"type":"text","align":"left","baseline":"middle","fontSize":15,"color":"black"},
"encoding":{"x":{"field":"m","type":"quantitative","axis":null},"y":{"field":"c","type":"quantitative","axis":null},"text":{"field":"t"}}},
{"data":{"name":"proc"},"mark":{"type":"text","align":"left","baseline":"middle","fontSize":15.5,"color":"black"},
"encoding":{"x":{"field":"m","type":"quantitative","axis":null},"y":{"field":"c","type":"quantitative","axis":null},"text":{"field":"t"}}},
{"data":{"name":"cms"},"mark":{"type":"text","align":"left","baseline":"middle","fontSize":15,"fontWeight":"bold","color":"black"},
"encoding":{"x":{"field":"m","type":"quantitative","axis":null},"y":{"field":"c","type":"quantitative","axis":null},"text":{"field":"t"}}}
],
"resolve":{"axis":{"x":"independent","y":"independent"}}
}
